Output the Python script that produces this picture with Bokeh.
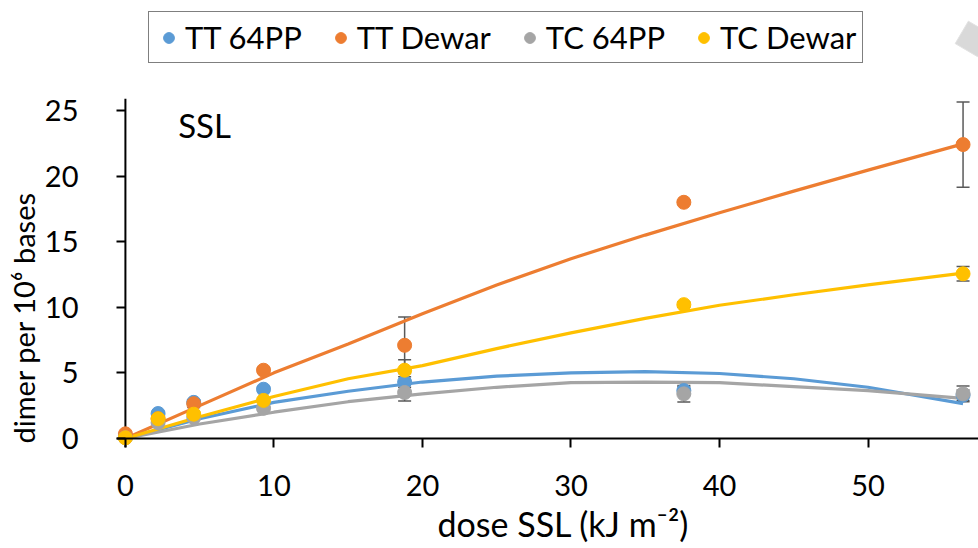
from bokeh.plotting import figure
from bokeh.models import (Range1d, Legend, LegendItem, Whisker, ColumnDataSource,
                          Label, TeeHead, FixedTicker, Span, Title)
from bokeh.embed import file_html
from bokeh.resources import INLINE

# ---- data ----
dose = [0, 2.2, 4.6, 9.3, 18.8, 37.6, 56.4]
tt_64pp = [0.2, 1.9, 2.75, 3.75, 4.3, 3.65, 3.3]
tt_dewar = [0.35, 1.5, 2.65, 5.2, 7.1, 18.0, 22.4]
tc_64pp = [0.05, 1.2, 1.6, 2.3, 3.5, 3.4, 3.4]
tc_dewar = [0.05, 1.5, 1.85, 2.9, 5.2, 10.2, 12.55]

tt_64pp_err = [0.1, 0.1, 0.15, 0.2, 0.4, 0.3, 0.4]
tt_dewar_err = [0.1, 0.2, 0.3, 0.2, 2.15, 0.15, 3.25]
tc_64pp_err = [0.05, 0.1, 0.1, 0.15, 0.65, 0.63, 0.6]
tc_dewar_err = [0.05, 0.1, 0.15, 0.15, 0.8, 0.2, 0.55]

fit_dose = [0, 5, 10, 15, 20, 25, 30, 35, 40, 45, 50, 56.4]
tt_64pp_fit = [0, 1.5, 2.75, 3.6, 4.3, 4.75, 5.0, 5.1, 4.95, 4.55, 3.9, 2.65]
tt_dewar_fit = [0, 2.5, 5.0, 7.2, 9.5, 11.7, 13.7, 15.5, 17.2, 18.85, 20.45, 22.45]
tc_64pp_fit = [0, 1.1, 2.0, 2.8, 3.4, 3.9, 4.25, 4.3, 4.25, 3.95, 3.65, 3.05]
tc_dewar_fit = [0, 1.65, 3.2, 4.55, 5.55, 6.85, 8.05, 9.15, 10.15, 10.95, 11.7, 12.6]

series_names = ["TT 64PP", "TT Dewar", "TC 64PP", "TC Dewar"]
colors = ["#5B9BD5", "#ED7D31", "#A5A5A5", "#FFC000"]
x_ticks = [0, 10, 20, 30, 40, 50]
y_ticks = [0, 5, 10, 15, 20, 25]
y_axis_top = 25.9

FONT = "Lato"

p = figure(width=978, height=548, output_backend="svg", toolbar_location=None,
           x_range=Range1d(-0.6, 57.44), y_range=Range1d(-0.69, 33.0),
           min_border_left=116, min_border_right=0, min_border_top=5,
           min_border_bottom=101)
p.outline_line_color = None
p.grid.visible = False

for ax in (p.xaxis[0], p.yaxis[0]):
    ax.axis_line_color = None
    ax.major_tick_line_color = "black"
    ax.major_tick_line_width = 2
    ax.major_tick_in = 9
    ax.major_tick_out = 0
    ax.minor_tick_line_color = None
    ax.major_label_text_font = FONT
    ax.major_label_text_font_size = "29px"
    ax.major_label_text_color = "black"

p.xaxis.ticker = FixedTicker(ticks=x_ticks)
p.yaxis.ticker = FixedTicker(ticks=y_ticks)
p.xaxis.major_label_standoff = 27
p.yaxis.major_label_standoff = 38

# axis lines through the origin
p.add_layout(Span(location=0, dimension="width", line_color="black", line_width=2))
p.segment(x0=[0], y0=[-0.69], x1=[0], y1=[y_axis_top], line_color="black", line_width=2)

# axis titles
p.add_layout(Title(text="dimer per 10\u2076 bases", align="left", offset=4,
                   vertical_align="middle", text_font=FONT, text_font_size="29px",
                   text_font_style="normal", text_color="black", standoff=0), "left")
p.add_layout(Title(text="dose SSL (kJ m\u207b\u00b2)", align="left", offset=321,
                   vertical_align="middle", text_font=FONT, text_font_size="34px",
                   text_font_style="normal", text_color="black", standoff=6), "below")

# light grey decorative square in the top-right corner of the picture
p.rect(x=[57.07], y=[30.45], width=26, height=26, width_units="screen",
       height_units="screen", angle=-0.53, fill_color="#D9D9D9", line_color="#E2E2E2")

ys = [tt_64pp, tt_dewar, tc_64pp, tc_dewar]
errs = [tt_64pp_err, tt_dewar_err, tc_64pp_err, tc_dewar_err]
fits = [tt_64pp_fit, tt_dewar_fit, tc_64pp_fit, tc_dewar_fit]

for f, c in zip(fits, colors):
    p.line(fit_dose, f, line_color=c, line_width=3.2)

scatter_renderers = []
for y, e, c in zip(ys, errs, colors):
    src = ColumnDataSource(dict(x=dose, y=y,
                                lo=[a - b for a, b in zip(y, e)],
                                hi=[a + b for a, b in zip(y, e)]))
    w = Whisker(source=src, base="x", lower="lo", upper="hi",
                line_color="#595959", line_width=1.5, level="underlay",
                upper_head=TeeHead(size=13, line_color="#595959", line_width=1.5),
                lower_head=TeeHead(size=13, line_color="#595959", line_width=1.5))
    p.add_layout(w)
    r = p.scatter("x", "y", source=src, size=14, fill_color=c, line_color=c)
    scatter_renderers.append(r)

legend = Legend(items=[LegendItem(label=n, renderers=[r])
                       for n, r in zip(series_names, scatter_renderers)],
                orientation="horizontal", location=(32, 384))
legend.border_line_color = "black"
legend.border_line_width = 1.5
legend.background_fill_color = "white"
legend.background_fill_alpha = 1
legend.padding = 6
legend.margin = 0
legend.spacing = 25
legend.label_standoff = 3
legend.glyph_width = 27
legend.glyph_height = 27
legend.label_text_font = FONT
legend.label_text_font_size = "31px"
legend.label_text_color = "black"
p.add_layout(legend)

p.add_layout(Label(x=3.55, y=23.9, text="SSL", text_font=FONT,
                   text_font_size="33px", text_color="black",
                   text_baseline="alphabetic"))

open("out.html", "w").write(file_html(p, INLINE))
